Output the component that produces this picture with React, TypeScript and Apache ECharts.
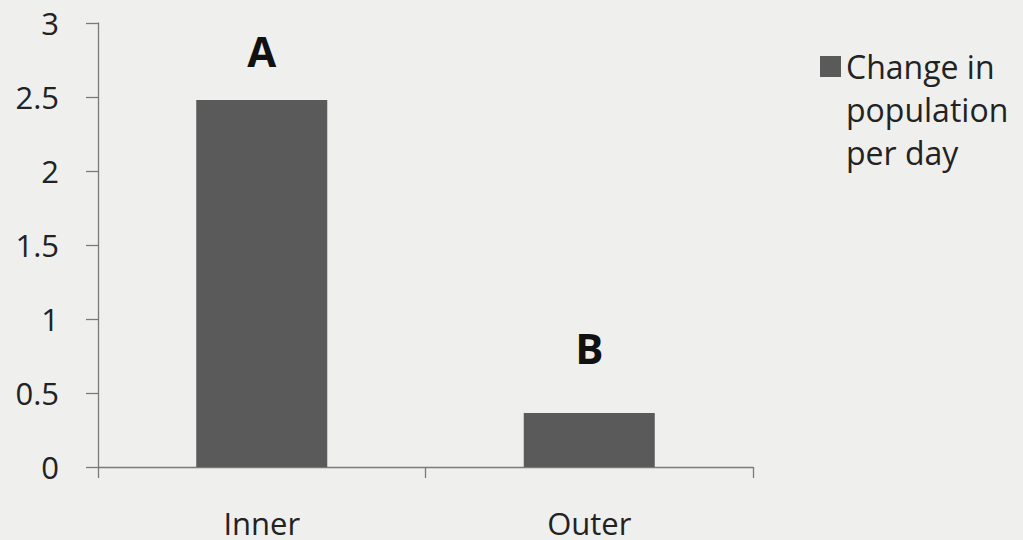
import React, { useEffect, useRef } from "react";
import * as echarts from "echarts";

const categories = ["Inner", "Outer"];
const values = [2.48, 0.365];
const barLabels = ["A", "B"];
const seriesName = "Change in\npopulation\nper day";
const yTicks = { min: 0, max: 3, interval: 0.5 };

export default function App() {
  const ref = useRef<HTMLDivElement>(null);
  useEffect(() => {
    if (!ref.current) return;
    const chart = echarts.init(ref.current, undefined, { renderer: "svg" });
    const labelDistances = [28, 44];
    chart.setOption({
      animation: false,
      backgroundColor: "#efefed",
      textStyle: { fontFamily: "Open Sans" },
      grid: { left: 98, right: 270, top: 23, bottom: 73, containLabel: false },
      legend: {
        show: true,
        left: 815,
        top: 40,
        orient: "vertical",
        itemWidth: 21,
        itemHeight: 129,
        icon: "path://M0,11H21V32H0Z M0,0L0,0 M21,129L21,129",
        itemStyle: { borderWidth: 0 },
        textStyle: {
          fontFamily: "Open Sans",
          fontSize: 32,
          color: "#222",
          lineHeight: 43,
        },
        data: [seriesName],
      },
      xAxis: {
        type: "category",
        data: categories,
        axisLine: { show: true, lineStyle: { color: "#7a7a7a", width: 1.3 } },
        axisTick: { show: true, alignWithLabel: false, length: 11, lineStyle: { color: "#7a7a7a", width: 1.3 } },
        axisLabel: { fontFamily: "Open Sans", fontSize: 31, lineHeight: 24, color: "#222", margin: 44 },
        splitLine: { show: false },
      },
      yAxis: {
        type: "value",
        min: yTicks.min,
        max: yTicks.max,
        interval: yTicks.interval,
        axisLine: { show: true, lineStyle: { color: "#7a7a7a", width: 1.3 } },
        axisTick: { show: true, length: 12, lineStyle: { color: "#7a7a7a", width: 1.3 } },
        axisLabel: { fontFamily: "Open Sans", fontSize: 31, color: "#222", margin: 39 },
        splitLine: { show: false },
      },
      series: [
        {
          name: seriesName,
          type: "bar",
          barWidth: "40%",
          itemStyle: { color: "#5a5a5a" },
          data: values.map((v, i) => ({
            value: v,
            label: {
              show: true,
              position: "top",
              distance: labelDistances[i],
              formatter: barLabels[i],
              fontFamily: "Open Sans",
              fontWeight: "bold",
              fontSize: 42,
              color: "#111",
            },
          })),
        },
      ],
    });
    return () => chart.dispose();
  }, []);
  return <div ref={ref} style={{ position: "fixed", left: 0, top: 0, width: 1023, height: 540 }} />;
}
